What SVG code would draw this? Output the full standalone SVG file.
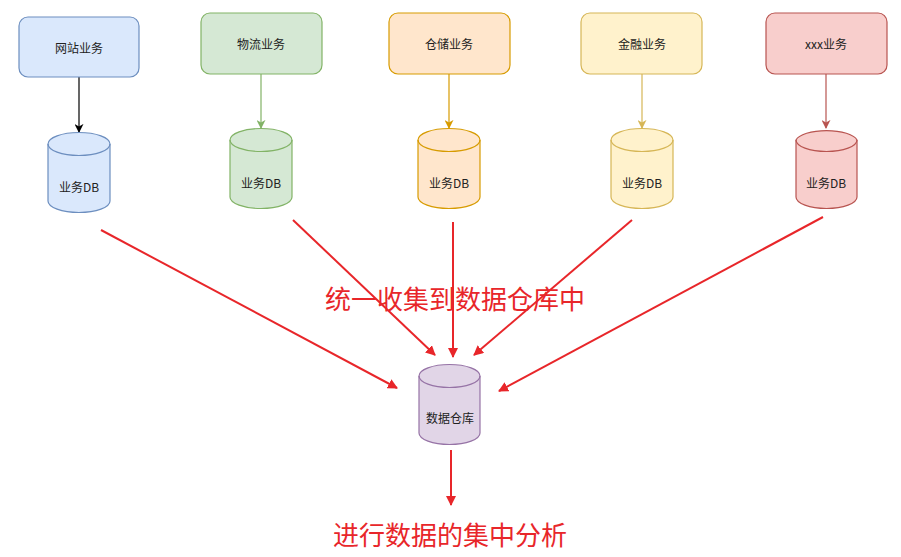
<svg xmlns="http://www.w3.org/2000/svg" width="901" height="557" viewBox="0 0 901 557">
<style>
  .lbl { font-family: "Noto Sans CJK SC", "Liberation Sans", sans-serif; font-size: 12px; fill: #222; text-anchor: middle; dominant-baseline: central; }
  .big { font-family: "Noto Sans CJK SC", "Liberation Sans", sans-serif; font-size: 26px; fill: #e8262a; text-anchor: middle; }
  .box { stroke-width: 1.2; }
  .cyl { stroke-width: 1.2; }
  .red { stroke: #e8262a; stroke-width: 2; fill: none; }
  .blue { fill: #dae8fc; stroke: #6c8ebf; }
  .green { fill: #d5e8d4; stroke: #82b366; }
  .orange { fill: #ffe6cc; stroke: #d79b00; }
  .yellow { fill: #fff2cc; stroke: #d6b656; }
  .pink { fill: #f8cecc; stroke: #b85450; }
  .purple { fill: #e1d5e7; stroke: #9673a6; }
</style>
<defs>
  <marker id="mk" viewBox="0 0 10 10" refX="9" refY="5" markerWidth="8" markerHeight="8" markerUnits="userSpaceOnUse" orient="auto">
    <path d="M0,0 L10,5 L0,10 L3,5 Z" fill="context-stroke"/>
  </marker>
  <marker id="mkRed" viewBox="0 0 10 10" refX="9" refY="5" markerWidth="10" markerHeight="10" markerUnits="userSpaceOnUse" orient="auto">
    <path d="M0,0 L10,5 L0,10 Z" fill="#e8262a"/>
  </marker>
  <marker id="mkK" viewBox="0 0 10 10" refX="9" refY="5" markerWidth="9" markerHeight="9" markerUnits="userSpaceOnUse" orient="auto">
    <path d="M0,0 L10,5 L0,10 L3,5 Z" fill="#000"/>
  </marker>
  <marker id="mkG" viewBox="0 0 10 10" refX="9" refY="5" markerWidth="9" markerHeight="9" markerUnits="userSpaceOnUse" orient="auto">
    <path d="M0,0 L10,5 L0,10 L3,5 Z" fill="#82b366"/>
  </marker>
  <marker id="mkO" viewBox="0 0 10 10" refX="9" refY="5" markerWidth="9" markerHeight="9" markerUnits="userSpaceOnUse" orient="auto">
    <path d="M0,0 L10,5 L0,10 L3,5 Z" fill="#d79b00"/>
  </marker>
  <marker id="mkY" viewBox="0 0 10 10" refX="9" refY="5" markerWidth="9" markerHeight="9" markerUnits="userSpaceOnUse" orient="auto">
    <path d="M0,0 L10,5 L0,10 L3,5 Z" fill="#d6b656"/>
  </marker>
  <marker id="mkP" viewBox="0 0 10 10" refX="9" refY="5" markerWidth="9" markerHeight="9" markerUnits="userSpaceOnUse" orient="auto">
    <path d="M0,0 L10,5 L0,10 L3,5 Z" fill="#b85450"/>
  </marker>
</defs>

<g id="connectors">
  <line x1="79" y1="77" x2="79" y2="132" stroke="#000" stroke-width="1.2" marker-end="url(#mkK)"/>
  <line x1="261" y1="74" x2="261" y2="128" stroke="#82b366" stroke-width="1.2" marker-end="url(#mkG)"/>
  <line x1="449" y1="74" x2="449" y2="128" stroke="#d79b00" stroke-width="1.2" marker-end="url(#mkO)"/>
  <line x1="642" y1="74" x2="642" y2="128" stroke="#d6b656" stroke-width="1.2" marker-end="url(#mkY)"/>
  <line x1="826" y1="74" x2="826" y2="128" stroke="#b85450" stroke-width="1.2" marker-end="url(#mkP)"/>
  <line class="red" x1="101" y1="230" x2="397" y2="388" marker-end="url(#mkRed)"/>
  <line class="red" x1="293" y1="220" x2="435" y2="355" marker-end="url(#mkRed)"/>
  <line class="red" x1="453" y1="222" x2="453" y2="357" marker-end="url(#mkRed)"/>
  <line class="red" x1="632" y1="220" x2="474" y2="355" marker-end="url(#mkRed)"/>
  <line class="red" x1="823" y1="217" x2="499" y2="391" marker-end="url(#mkRed)"/>
  <line class="red" x1="451" y1="450" x2="451" y2="505" marker-end="url(#mkRed)"/>
</g>

<g id="box-wangzhan">
  <rect class="box blue" x="19" y="17" width="120" height="60" rx="9"/>
  <text class="lbl" x="79" y="47">网站业务</text>
</g>
<g id="box-wuliu">
  <rect class="box green" x="201" y="13" width="121" height="61" rx="9"/>
  <text class="lbl" x="261" y="43">物流业务</text>
</g>
<g id="box-cangchu">
  <rect class="box orange" x="389" y="13" width="121" height="61" rx="9"/>
  <text class="lbl" x="449" y="43">仓储业务</text>
</g>
<g id="box-jinrong">
  <rect class="box yellow" x="581" y="13" width="121" height="61" rx="9"/>
  <text class="lbl" x="642" y="43">金融业务</text>
</g>
<g id="box-xxx">
  <rect class="box pink" x="766" y="13" width="121" height="61" rx="9"/>
  <text class="lbl" x="826" y="43">xxx业务</text>
</g>

<g id="db-1">
  <path class="cyl blue" d="M48,144 A31,11.5 0 0 1 110,144 L110,201 A31,11.5 0 0 1 48,201 Z"/>
  <path d="M48,144 A31,11.5 0 0 0 110,144" fill="none" stroke="#6c8ebf" stroke-width="1.2"/>
  <text class="lbl" x="79" y="186">业务DB</text>
</g>
<g id="db-2">
  <path class="cyl green" d="M230,140 A31,11.5 0 0 1 292,140 L292,197 A31,11.5 0 0 1 230,197 Z"/>
  <path d="M230,140 A31,11.5 0 0 0 292,140" fill="none" stroke="#82b366" stroke-width="1.2"/>
  <text class="lbl" x="261" y="182">业务DB</text>
</g>
<g id="db-3">
  <path class="cyl orange" d="M418,140 A31,11.5 0 0 1 480,140 L480,197 A31,11.5 0 0 1 418,197 Z"/>
  <path d="M418,140 A31,11.5 0 0 0 480,140" fill="none" stroke="#d79b00" stroke-width="1.2"/>
  <text class="lbl" x="449" y="182">业务DB</text>
</g>
<g id="db-4">
  <path class="cyl yellow" d="M611,140 A31,11.5 0 0 1 673,140 L673,197 A31,11.5 0 0 1 611,197 Z"/>
  <path d="M611,140 A31,11.5 0 0 0 673,140" fill="none" stroke="#d6b656" stroke-width="1.2"/>
  <text class="lbl" x="642" y="182">业务DB</text>
</g>
<g id="db-5">
  <path class="cyl pink" d="M796,140 A31,11.5 0 0 1 857,140 L857,197 A30.5,11.5 0 0 1 796,197 Z"/>
  <path d="M796,140 A30.5,11.5 0 0 0 857,140" fill="none" stroke="#b85450" stroke-width="1.2"/>
  <text class="lbl" x="826" y="182">业务DB</text>
</g>
<g id="db-warehouse">
  <path class="cyl purple" d="M419,376 A30.5,11.5 0 0 1 480,376 L480,433 A30.5,11.5 0 0 1 419,433 Z"/>
  <path d="M419,376 A30.5,11.5 0 0 0 480,376" fill="none" stroke="#9673a6" stroke-width="1.2"/>
  <text class="lbl" x="450" y="417">数据仓库</text>
</g>

<g id="label-collect">
  <text class="big" x="455" y="309">统一收集到数据仓库中</text>
</g>
<g id="label-analyze">
  <text class="big" x="450" y="545">进行数据的集中分析</text>
</g>
</svg>
